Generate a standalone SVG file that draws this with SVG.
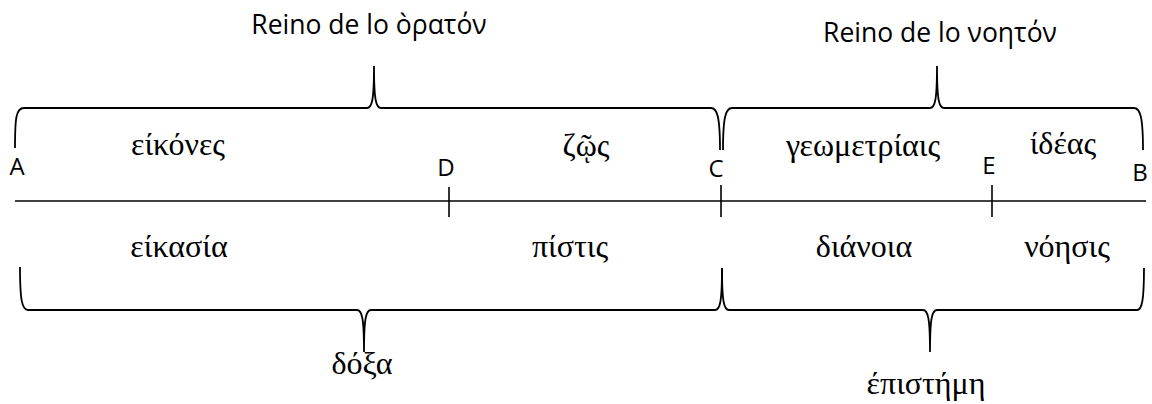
<svg xmlns="http://www.w3.org/2000/svg" width="1152" height="404" viewBox="0 0 1152 404">
<style>
.bg{fill:#ffffff}
.ln{fill:none;stroke:#000000;stroke-width:1.6;stroke-linejoin:round;stroke-linecap:butt}
.br{fill:none;stroke:#000000;stroke-width:1.8;stroke-linejoin:miter;stroke-linecap:butt}
.pt{font-family:"Open Sans","Noto Sans","Liberation Sans",sans-serif;font-size:24px;fill:#000;text-anchor:middle}
.rk{font-family:"Open Sans","Noto Sans","Liberation Sans",sans-serif;font-size:26.5px;fill:#000;text-anchor:middle}
.gk{font-family:"Liberation Serif","DejaVu Serif",serif;font-size:32px;fill:#000;text-anchor:middle}
</style>
<rect class="bg" x="0" y="0" width="1152" height="404"/>
<g id="connectors">
<path class="ln" d="M15,201 L1146,201"/>
<path class="ln" d="M449,187 L449,217"/>
<path class="ln" d="M721,185 L721,217"/>
<path class="ln" d="M992,185 L992,217"/>
</g>
<g id="brace-horaton">
<path class="br" d="M15,148 C15,118 16,108 24,108 L367,108 C372,108 374,100 374,66 C374,100 376,108 381,108 L711,108 C717,108 720,116 720,150"/>
<text class="rk" x="369" y="34">Reino de lo ὸρατόν</text>
</g>
<g id="brace-noeton">
<path class="br" d="M723,150 C723,116 726,108 732,108 L930,108 C935,108 937,100 937,66 C937,100 939,108 944,108 L1134,108 C1140,108 1143,116 1143,150"/>
<text class="rk" x="940" y="42">Reino de lo νοητόν</text>
</g>
<g id="brace-doxa">
<path class="br" d="M20,267 C20,300 22,310 28,310 L357,310 C362,310 364,318 364,352 C364,318 366,310 371,310 L715,310 C720,310 722,302 722,268"/>
<text class="gk" x="362" y="374">δόξα</text>
</g>
<g id="brace-episteme">
<path class="br" d="M722,268 C722,302 724,310 729,310 L923,310 C928,310 930,318 930,352 C930,318 932,310 937,310 L1137,310 C1142,310 1144,300 1144,268"/>
<text class="gk" x="926" y="394">έπιστήμη</text>
</g>
<g id="point-A"><text class="pt" x="17" y="175">A</text></g>
<g id="point-D"><text class="pt" x="446" y="176">D</text></g>
<g id="point-C"><text class="pt" x="716" y="177">C</text></g>
<g id="point-E"><text class="pt" x="989" y="174">E</text></g>
<g id="point-B"><text class="pt" x="1140" y="181">B</text></g>
<g id="seg-eikones"><text class="gk" x="178" y="155">είκόνες</text></g>
<g id="seg-zoos"><text class="gk" x="586" y="156">ζῷς</text></g>
<g id="seg-geometriais"><text class="gk" x="863" y="156">γεωμετρίαις</text></g>
<g id="seg-ideas"><text class="gk" x="1063" y="154">ίδέας</text></g>
<g id="seg-eikasia"><text class="gk" x="179" y="257">είκασία</text></g>
<g id="seg-pistis"><text class="gk" x="570" y="257">πίστις</text></g>
<g id="seg-dianoia"><text class="gk" x="864" y="257">διάνοια</text></g>
<g id="seg-noesis"><text class="gk" x="1067" y="257">νόησις</text></g>
</svg>
